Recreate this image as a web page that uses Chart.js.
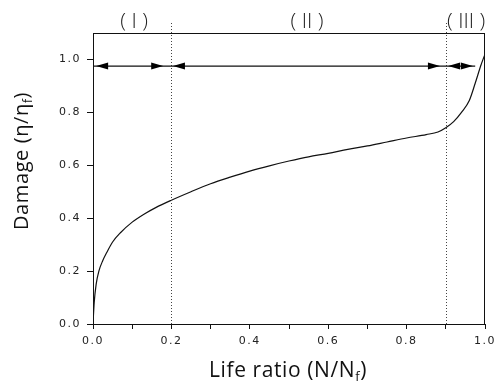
<!DOCTYPE html>
<html>
<head>
<meta charset="utf-8">
<script src="https://cdn.jsdelivr.net/npm/chart.js@4"></script>
<style>
  html, body { margin: 0; padding: 0; background: #fff; }
  #wrap { width: 501px; height: 384px; }
</style>
</head>
<body>
<div id="wrap"><canvas id="c" width="501" height="384"></canvas></div>
<script>
// ---- data ----
const lifeRatio = [0, 0.003, 0.008, 0.015, 0.025, 0.035, 0.05, 0.07, 0.1, 0.13, 0.16, 0.2, 0.25, 0.3, 0.35, 0.4, 0.45, 0.5, 0.55, 0.6, 0.65, 0.7, 0.75, 0.8, 0.85, 0.88, 0.9, 0.92, 0.94, 0.96, 0.975, 0.99, 1.0];
const damage    = [0, 0.08, 0.15, 0.2, 0.24, 0.27, 0.31, 0.345, 0.385, 0.415, 0.44, 0.468, 0.5, 0.53, 0.555, 0.578, 0.598, 0.616, 0.632, 0.645, 0.66, 0.673, 0.688, 0.703, 0.716, 0.726, 0.742, 0.765, 0.8, 0.845, 0.91, 0.98, 1.02];
const xTicks = [0, 0.1, 0.2, 0.3, 0.4, 0.5, 0.6, 0.7, 0.8, 0.9, 1.0];
const yTicks = [0, 0.2, 0.4, 0.6, 0.8, 1.0];
const boundaries = [0.2, 0.9];
const regionLabels = ['( I )', '( II )', '( III )'];
const regionCenters = [0.105, 0.546, 0.952];
const arrowLevel = 0.975;
const arrowLineRange = [0, 0.975];
const arrowSegments = [[0.008, 0.179], [0.204, 0.885], [0.906, 0.969]];
const xTitle = ['Life ratio (N/N', 'f', ')'];
const yTitle = ['Damage (\u03b7/\u03b7', 'f', ')'];

const points = lifeRatio.map((x, i) => ({x: x, y: damage[i]}));

function drawSubText(ctx, parts, x, y, size, family) {
  ctx.font = size + 'px ' + family;
  const w0 = ctx.measureText(parts[0]).width;
  ctx.font = Math.round(size * 0.62) + 'px ' + family;
  const w1 = ctx.measureText(parts[1]).width;
  ctx.font = size + 'px ' + family;
  const w2 = ctx.measureText(parts[2]).width;
  const total = w0 + w1 + w2;
  let cx = x - total / 2;
  ctx.textAlign = 'left';
  ctx.textBaseline = 'alphabetic';
  ctx.fillText(parts[0], cx, y);
  cx += w0;
  ctx.font = Math.round(size * 0.62) + 'px ' + family;
  ctx.fillText(parts[1], cx, y + size * 0.18);
  cx += w1;
  ctx.font = size + 'px ' + family;
  ctx.fillText(parts[2], cx, y);
}

const decor = {
  id: 'decor',
  beforeDraw(chart) {
    chart.ctx.letterSpacing = '1.5px';
  },
  afterDraw(chart) {
    const ctx = chart.ctx;
    ctx.letterSpacing = '0px';
    const xs = chart.scales.x, ys = chart.scales.y;
    const a = chart.chartArea;
    ctx.save();
    // frame
    ctx.strokeStyle = '#111';
    ctx.lineWidth = 1;
    ctx.strokeRect(a.left + 0.5, a.top + 0.5, a.right - a.left - 1, a.bottom - a.top);
    // dotted boundaries
    ctx.strokeStyle = '#444';
    ctx.setLineDash([1, 2]);
    boundaries.forEach(b => {
      const px = Math.round(xs.getPixelForValue(b)) + 0.5;
      ctx.beginPath();
      ctx.moveTo(px, a.top - 10);
      ctx.lineTo(px, a.bottom);
      ctx.stroke();
    });
    ctx.setLineDash([]);
    // arrow line
    const py = ys.getPixelForValue(arrowLevel);
    ctx.strokeStyle = '#111';
    ctx.lineWidth = 1.2;
    ctx.beginPath();
    ctx.moveTo(xs.getPixelForValue(arrowLineRange[0]), py);
    ctx.lineTo(xs.getPixelForValue(arrowLineRange[1]), py);
    ctx.stroke();
    ctx.fillStyle = '#000';
    const head = (tip, dir) => {
      ctx.beginPath();
      ctx.moveTo(tip, py);
      ctx.lineTo(tip - dir * 12, py - 3.5);
      ctx.lineTo(tip - dir * 12, py + 3.5);
      ctx.closePath();
      ctx.fill();
    };
    arrowSegments.forEach(s => {
      head(xs.getPixelForValue(s[0]), -1);
      head(xs.getPixelForValue(s[1]), 1);
    });
    // region labels
    ctx.fillStyle = '#222';
    ctx.font = '300 21px "Open Sans"';
    ctx.textAlign = 'center';
    ctx.textBaseline = 'middle';
    regionLabels.forEach((t, i) => {
      ctx.fillText(t, xs.getPixelForValue(regionCenters[i]), 22);
    });
    // axis titles
    ctx.fillStyle = '#111';
    ctx.letterSpacing = '0.6px';
    drawSubText(ctx, xTitle, 288, 377, 21, '"Open Sans"');
    ctx.save();
    ctx.translate(28, 161);
    ctx.rotate(-Math.PI / 2);
    drawSubText(ctx, yTitle, 0, 0, 20, '"Open Sans"');
    ctx.restore();
    ctx.letterSpacing = '0px';
    ctx.restore();
  }
};

new Chart(document.getElementById('c'), {
  type: 'line',
  data: {
    datasets: [{
      data: points,
      borderColor: '#111',
      borderWidth: 1.2,
      pointRadius: 0,
      tension: 0,
      cubicInterpolationMode: 'monotone',
      fill: false
    }]
  },
  options: {
    responsive: false,
    animation: false,
    events: [],
    layout: { padding: { left: 0, top: 33, right: 16, bottom: 0 } },
    plugins: { legend: { display: false }, tooltip: { enabled: false }, title: { display: false } },
    scales: {
      x: {
        type: 'linear',
        min: 0, max: 1,
        afterFit(s) { s.height = 60; },
        afterBuildTicks(s) { s.ticks = xTicks.map(v => ({value: v})); },
        grid: { drawOnChartArea: false, tickLength: 5, color: '#111' },
        border: { display: true, color: '#111', width: 1 },
        ticks: {
          padding: 6,
          color: '#222',
          maxRotation: 0,
          font: { family: '"DejaVu Sans"', size: 11 },
          callback: (v) => (Math.round(v * 10) % 2 === 0) ? v.toFixed(1) : ''
        }
      },
      y: {
        type: 'linear',
        min: 0, max: 1.1,
        afterFit(s) { s.width = 93; },
        afterBuildTicks(s) { s.ticks = yTicks.map(v => ({value: v})); },
        grid: { drawOnChartArea: false, tickLength: 6, color: '#111' },
        border: { display: true, color: '#111', width: 1 },
        ticks: {
          padding: 6,
          color: '#222',
          font: { family: '"DejaVu Sans"', size: 11 },
          callback: (v) => v.toFixed(1)
        }
      }
    }
  },
  plugins: [decor]
});
</script>
</body>
</html>
